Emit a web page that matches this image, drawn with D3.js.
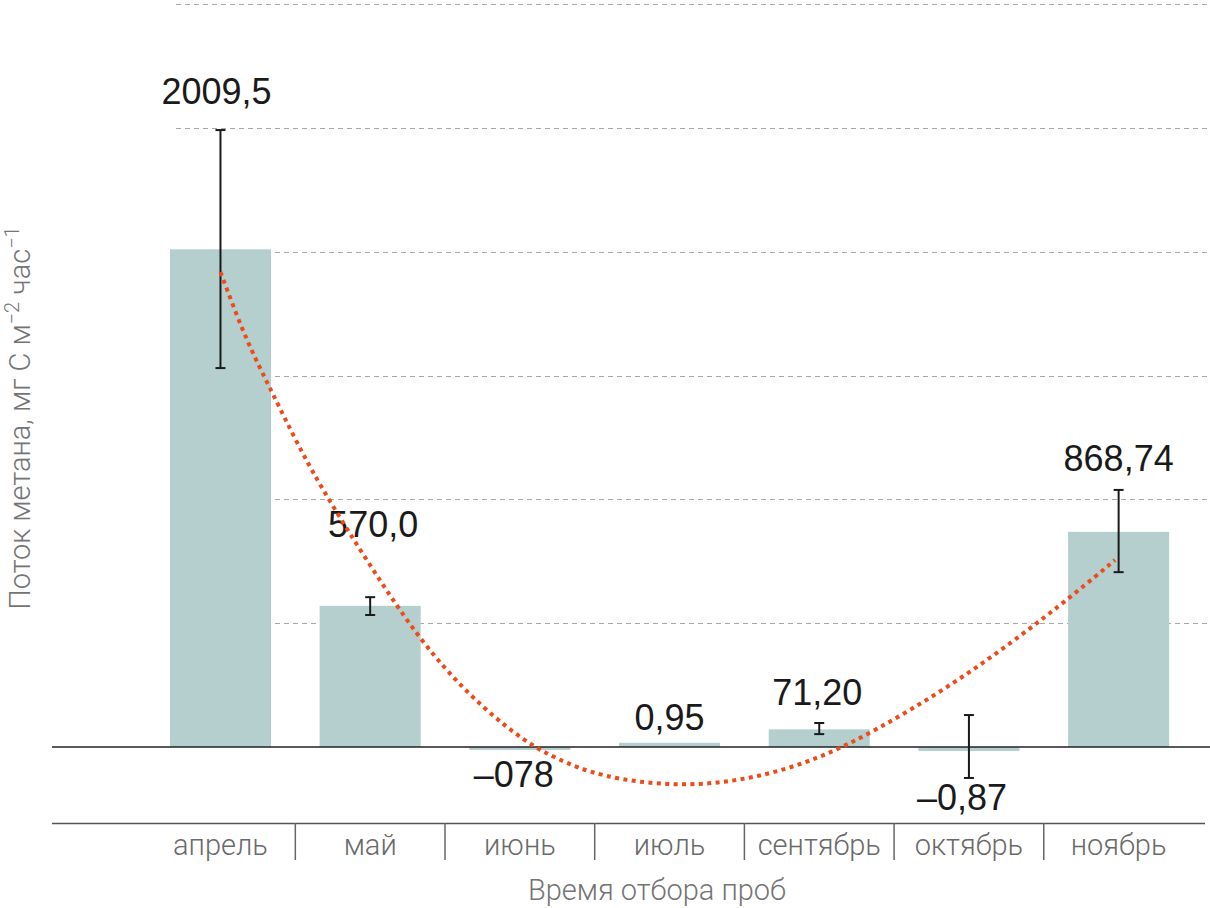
<!DOCTYPE html>
<html lang="ru">
<head>
<meta charset="utf-8">
<title>Поток метана</title>
<script src="https://d3js.org/d3.v7.min.js"></script>
<style>
  body { margin: 0; background: #fff; }
  svg { display: block; }
  .val { font-family: "Liberation Sans", Arial, sans-serif; font-size: 36px; fill: #1a1a1a; }
  .cat { font-family: Roboto, "Liberation Sans", sans-serif; font-weight: 300; font-size: 29px; fill: #6a6a6a; }
  .ttl { font-family: Roboto, "Liberation Sans", sans-serif; font-weight: 300; font-size: 29px; fill: #747474; }
</style>
</head>
<body>
<div id="chart"></div>
<script>
// categories and values
const months = ["апрель", "май", "июнь", "июль", "сентябрь", "октябрь", "ноябрь"];
// bar heights as drawn in the picture (tiny bars are drawn a bit taller than their labels)
const barValues = [2009.5, 570.0, -12, 17, 71.2, -16, 868.74];
const valueLabels = ["2009,5", "570,0", "–078", "0,95", "71,20", "–0,87", "868,74"];
// error bars (low, high), null where there is none
const errLow = [1530, 533, null, null, 52, -125, 706];
const errHigh = [2491, 605, null, null, 97, 129, 1038];
// gridline values
const gridTicks = [500, 1000, 1500, 2000, 2500, 3000];
// trend curve: category position (0 = апрель) and value
const trendPos = [0, 0.15, 0.264, 0.344, 0.511, 0.711, 1.219, 1.486, 1.753, 2.047, 2.247, 2.535,
  3.049, 3.537, 3.985, 4.386, 4.853, 5.294, 5.722, 5.976];
const trendVal = [1918, 1676, 1530, 1433, 1227, 1005, 525, 323, 157, 16, -48, -121,
  -162, -133, -52, 69, 238, 424, 626, 755];

// label nudges (px), layout only
const labelDx = [-4, 3, -6, 0, -2, -7, 0];
const labelDy = [-26, -60, 37, -13, -18, 32, -19];

const W = 1210, H = 908;
const svg = d3.select("#chart").append("svg")
  .attr("width", W).attr("height", H);

const x = d3.scaleBand()
  .domain(months)
  .range([145.6, 1193.5])
  .paddingInner(0.325)
  .paddingOuter(0.1627);

const y = d3.scaleLinear()
  .domain([0, 3000])
  .range([747, 4]);

const bw = x.bandwidth();
const cx = m => x(m) + bw / 2;

// grid
svg.append("g")
  .selectAll("line")
  .data(gridTicks)
  .join("line")
  .attr("x1", 176).attr("x2", W)
  .attr("y1", d => Math.round(y(d)) + 0.5)
  .attr("y2", d => Math.round(y(d)) + 0.5)
  .attr("stroke", "#a8a8a8")
  .attr("stroke-width", 1)
  .attr("stroke-dasharray", "5 4");

// bars
svg.append("g")
  .selectAll("rect")
  .data(months)
  .join("rect")
  .attr("x", d => x(d))
  .attr("width", bw)
  .attr("y", (d, i) => y(Math.max(0, barValues[i])))
  .attr("height", (d, i) => Math.abs(y(barValues[i]) - y(0)))
  .attr("fill", "#b4cfce");

// zero line and lower axis
svg.append("line")
  .attr("x1", 52).attr("x2", W)
  .attr("y1", y(0)).attr("y2", y(0))
  .attr("stroke", "#222").attr("stroke-width", 1.5);

svg.append("line")
  .attr("x1", 52).attr("x2", 1205)
  .attr("y1", 823.5).attr("y2", 823.5)
  .attr("stroke", "#555").attr("stroke-width", 1.5);

// separators between categories
svg.append("g")
  .selectAll("line")
  .data(months.slice(0, -1))
  .join("line")
  .attr("x1", d => x(d) + bw + (x.step() - bw) / 2)
  .attr("x2", d => x(d) + bw + (x.step() - bw) / 2)
  .attr("y1", 823).attr("y2", 860)
  .attr("stroke", "#666").attr("stroke-width", 1.5);

// category labels
svg.append("g")
  .selectAll("text")
  .data(months)
  .join("text")
  .attr("class", "cat")
  .attr("x", d => cx(d))
  .attr("y", 855)
  .attr("text-anchor", "middle")
  .text(d => d);

// error bars
const errData = months.map((m, i) => ({ m, lo: errLow[i], hi: errHigh[i] }))
  .filter(d => d.lo !== null);

const eg = svg.append("g").attr("stroke", "#1a1a1a").attr("stroke-width", 2);
eg.selectAll(".ev").data(errData).join("line")
  .attr("class", "ev")
  .attr("x1", d => cx(d.m)).attr("x2", d => cx(d.m))
  .attr("y1", d => y(d.hi)).attr("y2", d => y(d.lo));
eg.selectAll(".et").data(errData).join("line")
  .attr("class", "et")
  .attr("x1", d => cx(d.m) - 5).attr("x2", d => cx(d.m) + 5)
  .attr("y1", d => y(d.hi)).attr("y2", d => y(d.hi));
eg.selectAll(".eb").data(errData).join("line")
  .attr("class", "eb")
  .attr("x1", d => cx(d.m) - 5).attr("x2", d => cx(d.m) + 5)
  .attr("y1", d => y(d.lo)).attr("y2", d => y(d.lo));

// value labels
svg.append("g")
  .selectAll("text")
  .data(months)
  .join("text")
  .attr("class", "val")
  .attr("text-anchor", "middle")
  .attr("x", (d, i) => cx(d) + labelDx[i])
  .attr("y", (d, i) => {
    const v = barValues[i];
    let ref;
    if (v >= 0) ref = y(errHigh[i] !== null ? errHigh[i] : v);
    else ref = y(errLow[i] !== null ? errLow[i] : v);
    return ref + labelDy[i];
  })
  .text((d, i) => valueLabels[i]);

// trend curve
const tx = d3.scaleLinear().domain([0, months.length - 1])
  .range([cx(months[0]), cx(months[months.length - 1])]);

const trendLine = d3.line()
  .x(d => tx(d[0]))
  .y(d => y(d[1]))
  .curve(d3.curveBasis);

svg.append("path")
  .datum(trendPos.map((p, i) => [p, trendVal[i]]))
  .attr("fill", "none")
  .attr("stroke", "#ee4a1a")
  .attr("stroke-width", 4)
  .attr("stroke-dasharray", "4 4.4")
  .attr("d", trendLine);

// axis titles
svg.append("text")
  .attr("class", "ttl")
  .attr("x", 657).attr("y", 900)
  .attr("text-anchor", "middle")
  .text("Время отбора проб");

const yt = svg.append("text")
  .attr("class", "ttl")
  .attr("transform", "translate(30,418) rotate(-90)")
  .attr("text-anchor", "middle");
yt.append("tspan").text("Поток метана, мг С м");
yt.append("tspan").attr("dy", -11).attr("font-size", 20).text("−2");
yt.append("tspan").attr("dy", 11).text(" час");
yt.append("tspan").attr("dy", -11).attr("font-size", 20).text("−1");
</script>
</body>
</html>
